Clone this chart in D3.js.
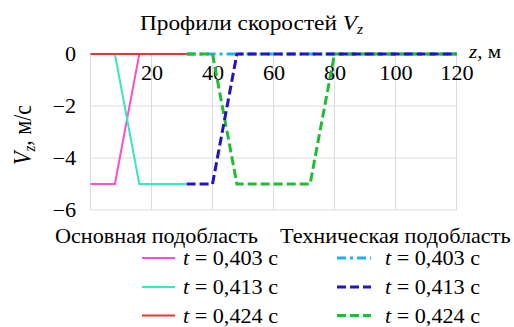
<!DOCTYPE html>
<html><head><meta charset="utf-8">
<script src="https://cdn.jsdelivr.net/npm/d3@7"></script>
</head>
<body style="margin:0;background:#fff"><svg id="c" width="514" height="327"></svg>
<script>
// ---- data ----
const xTicks = [20, 40, 60, 80, 100, 120];
const yTicks = [0, -2, -4, -6];
const gridX = [0, 20, 40, 60, 80, 100, 120];
const gridY = [-2, -4, -6];

const main403Z = [0, 8, 16, 31.5];
const main403V = [-5, -5, 0, 0];
const main413Z = [0, 8, 16, 31.5];
const main413V = [0, 0, -5, -5];
const main424Z = [0, 31.5];
const main424V = [0, 0];

const tech403Z = [31.5, 120];
const tech403V = [0, 0];
const tech413Z = [31.5, 40, 48, 120];
const tech413V = [-5, -5, 0, 0];
const tech424Z = [31.5, 40, 48, 72, 80, 120];
const tech424V = [0, 0, -5, -5, 0, 0];

const seriesLabels = ["t = 0,403 с", "t = 0,413 с", "t = 0,424 с"];
const groupTitles = ["Основная подобласть", "Техническая подобласть"];

// ---- chart ----
const FF = '"Liberation Serif", serif';
const SX = 1.11; // horizontal stretch of glyphs seen in the reference
const svg = d3.select("#c").attr("font-family", FF);
const x = d3.scaleLinear().domain([0, 120]).range([90.5, 456.5]);
const y = d3.scaleLinear().domain([0, -6]).range([54, 210]);

function txt(px, py, size) {
  return svg.append("text").attr("transform", `translate(${px},${py}) scale(${SX},1)`)
    .attr("font-size", size).attr("fill", "#000");
}

// grid
svg.append("g").selectAll("line").data(gridX).join("line")
  .attr("x1", d => x(d)).attr("x2", d => x(d)).attr("y1", y(0)).attr("y2", y(-6))
  .attr("stroke", "#dcdcdc").attr("stroke-width", 1);
svg.append("g").selectAll("line").data(gridY).join("line")
  .attr("x1", x(0)).attr("x2", x(120)).attr("y1", d => y(d)).attr("y2", d => y(d))
  .attr("stroke", "#dcdcdc").attr("stroke-width", 1);

// axes tick labels
const xAxis = d3.axisBottom(x).tickValues(xTicks).tickSize(0).tickPadding(0);
const gx = svg.append("g").attr("transform", `translate(0,${y(0)})`).call(xAxis)
  .attr("font-family", FF).attr("font-size", 20);
gx.select(".domain").remove();
gx.selectAll("text").attr("y", 0).attr("dy", 0).attr("fill", "#000")
  .attr("transform", `translate(0,26) scale(${SX},1)`);

const yAxis = d3.axisLeft(y).tickValues(yTicks).tickSize(0).tickPadding(0)
  .tickFormat(d => d === 0 ? "0" : "\u2212" + Math.abs(d));
const gy = svg.append("g").attr("transform", `translate(76,0)`).call(yAxis)
  .attr("font-family", FF).attr("font-size", 20);
gy.select(".domain").remove();
gy.selectAll("text").attr("x", 0).attr("dy", "0.34em").attr("fill", "#000")
  .attr("transform", `scale(${SX},1)`);

// lines
const line = d3.line().x(d => x(d[0])).y(d => y(d[1]));
const zipped = (zs, vs) => zs.map((z, i) => [z, vs[i]]);
const series = [
  {pts: zipped(tech403Z, tech403V), color: "#1eb0ee", w: 3, dash: "9,4,3,4"},
  {pts: zipped(tech424Z, tech424V), color: "#22bb33", w: 3, dash: "9,4"},
  {pts: zipped(tech413Z, tech413V), color: "#2212c8", w: 3, dash: "9,4"},
  {pts: zipped(main403Z, main403V), color: "#fb4fcb", w: 2, dash: null},
  {pts: zipped(main413Z, main413V), color: "#36e8bf", w: 2, dash: null},
  {pts: zipped(main424Z, main424V), color: "#ec3434", w: 2, dash: null}
];
svg.append("g").selectAll("path").data(series).join("path")
  .attr("d", d => line(d.pts)).attr("fill", "none")
  .attr("stroke", d => d.color).attr("stroke-width", d => d.w)
  .attr("stroke-dasharray", d => d.dash);

// title
const title = txt(140, 30, 21);
title.append("tspan").text("Профили скоростей ");
title.append("tspan").attr("font-style", "italic").text("V");
title.append("tspan").attr("font-style", "italic").attr("font-size", 14).attr("dy", 4).text("z");

// axis labels
const zl = txt(469, 58, 19);
zl.append("tspan").attr("font-style", "italic").text("z");
zl.append("tspan").text(", м");

const yl = svg.append("text").attr("transform", `translate(31,135) rotate(-90) scale(1,${SX})`)
  .attr("text-anchor", "middle").attr("font-size", 22).attr("fill", "#000");
yl.append("tspan").attr("font-style", "italic").text("V");
yl.append("tspan").attr("font-style", "italic").attr("font-size", 15).attr("dy", 4).text("z");
yl.append("tspan").attr("dy", -4).text(", м/с");

// legend
txt(55, 243, 20).text(groupTitles[0]);
txt(280, 243, 20).text(groupTitles[1]);

const rowsY = [258, 287, 315.5];
const leftCol = [series[3], series[4], series[5]];
const rightCol = [series[0], series[2], series[1]];
function legendCol(items, lx1, lx2, tx) {
  items.forEach((s, i) => {
    svg.append("line").attr("x1", lx1).attr("x2", lx2).attr("y1", rowsY[i]).attr("y2", rowsY[i])
      .attr("stroke", s.color).attr("stroke-width", s.w).attr("stroke-dasharray", s.dash);
    const t = txt(tx, rowsY[i] + 7, 20);
    const parts = seriesLabels[i].split(" = ");
    t.append("tspan").attr("font-style", "italic").text(parts[0]);
    t.append("tspan").text(" = " + parts[1]);
  });
}
legendCol(leftCol, 142, 175, 183);
legendCol(rightCol, 337, 371, 385);
</script></body></html>
